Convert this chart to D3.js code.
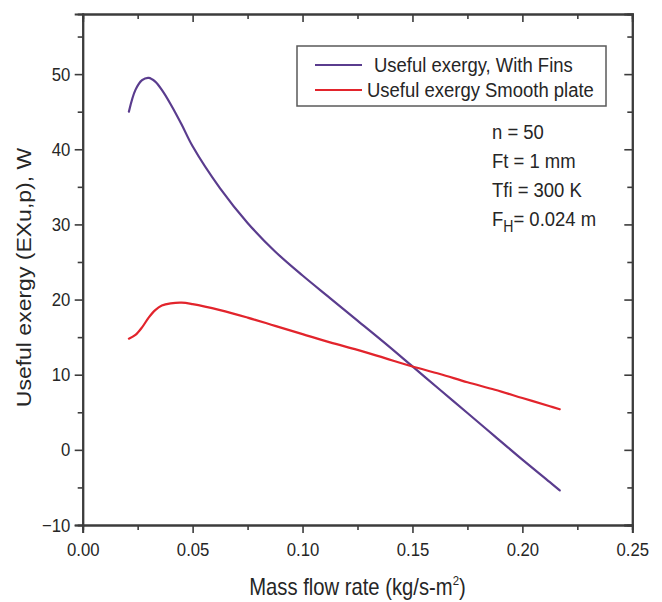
<!DOCTYPE html>
<html>
<head>
<meta charset="utf-8">
<script src="https://cdn.jsdelivr.net/npm/d3@7/dist/d3.min.js"></script>
<style>
  html, body { margin: 0; padding: 0; background: #fff; }
  svg { display: block; }
  text { font-family: "Liberation Sans", Arial, sans-serif; fill: #262626; }
</style>
</head>
<body>
<svg id="chart" width="662" height="602"></svg>
<script>
// Mass flow rate (kg/s-m²) sample points
const massFlow = [0.021, 0.024, 0.027, 0.030, 0.033, 0.036, 0.040, 0.045, 0.050,
  0.0625, 0.075, 0.0875, 0.100, 0.1125, 0.125, 0.1375, 0.150, 0.1625, 0.175,
  0.1875, 0.200, 0.2125, 0.217];

// Useful exergy (W), finned absorber
const exergyFins = [45.0, 47.9, 49.2, 49.5, 49.0, 47.9, 46.0, 43.3, 40.4,
  34.8, 30.2, 26.4, 23.2, 20.2, 17.2, 14.2, 11.1, 8.0, 4.9,
  1.8, -1.3, -4.3, -5.4];

// Useful exergy (W), smooth plate
const exergySmooth = [14.8, 15.3, 16.3, 17.6, 18.6, 19.2, 19.5, 19.6, 19.4,
  18.6, 17.6, 16.5, 15.4, 14.3, 13.3, 12.2, 11.1, 10.1, 9.0,
  8.0, 6.9, 5.8, 5.4];

const seriesNames = ["Useful exergy, With Fins", "Useful exergy Smooth plate"];
const seriesColors = ["#5a3c8e", "#e2242c"];

const xMajorTicks = [0.00, 0.05, 0.10, 0.15, 0.20, 0.25];
const xMinorTicks = [0.025, 0.075, 0.125, 0.175, 0.225];
const yMajorTicks = [-10, 0, 10, 20, 30, 40, 50];
const yMinorTicks = [-5, 5, 15, 25, 35, 45, 55];

const conditions = ["n = 50", "Ft = 1 mm", "Tfi = 300 K"];

const svg = d3.select("#chart");
const plotLeft = 82.7, plotRight = 632.3, plotTop = 14, plotBottom = 525;
const squeeze = 0.88; // glyphs are drawn slightly condensed

const x = d3.scaleLinear().domain([0, 0.25]).range([plotLeft, plotRight]);
const y = d3.scaleLinear().domain([-10, 58]).range([plotBottom, plotTop]);

const axisColor = "#3c3c3c";

function styleAxis(g) {
  g.select(".domain").attr("stroke", axisColor).attr("stroke-width", 2);
  g.selectAll(".tick line").attr("stroke", axisColor).attr("stroke-width", 1.6);
}

// bottom axis: labelled majors + minors, outward
svg.append("g").attr("transform", `translate(0,${plotBottom})`)
  .call(d3.axisBottom(x).tickValues(xMinorTicks).tickSize(5).tickFormat(""))
  .call(styleAxis);
const xAxisG = svg.append("g").attr("transform", `translate(0,${plotBottom})`)
  .call(d3.axisBottom(x).tickValues(xMajorTicks).tickSize(8).tickPadding(10)
    .tickFormat(d3.format(".2f")))
  .call(styleAxis);
xAxisG.selectAll("text").attr("font-size", 19)
  .attr("transform", `scale(${squeeze},1)`).style("fill", "#262626");

// left axis
svg.append("g").attr("transform", `translate(${plotLeft},0)`)
  .call(d3.axisLeft(y).tickValues(yMinorTicks).tickSize(5).tickFormat(""))
  .call(styleAxis);
const yAxisG = svg.append("g").attr("transform", `translate(${plotLeft},0)`)
  .call(d3.axisLeft(y).tickValues(yMajorTicks).tickSize(8).tickPadding(6)
    .tickFormat(d3.format("d")))
  .call(styleAxis);
yAxisG.selectAll("text").attr("font-size", 19)
  .attr("transform", `scale(${squeeze},1)`).style("fill", "#262626");

// top and right axes: inward ticks, no labels
svg.append("g").attr("transform", `translate(0,${plotTop})`)
  .call(d3.axisTop(x).tickValues(xMinorTicks).tickSize(-5).tickFormat(""))
  .call(styleAxis);
svg.append("g").attr("transform", `translate(0,${plotTop})`)
  .call(d3.axisTop(x).tickValues(xMajorTicks).tickSize(-8).tickFormat(""))
  .call(styleAxis);
svg.append("g").attr("transform", `translate(${plotRight},0)`)
  .call(d3.axisRight(y).tickValues(yMinorTicks).tickSize(-5).tickFormat(""))
  .call(styleAxis);
svg.append("g").attr("transform", `translate(${plotRight},0)`)
  .call(d3.axisRight(y).tickValues(yMajorTicks).tickSize(-8).tickFormat(""))
  .call(styleAxis);

// curves
const line = d3.line()
  .x((d, i) => x(massFlow[i]))
  .y(d => y(d))
  .curve(d3.curveCatmullRom.alpha(0.5));

[exergyFins, exergySmooth].forEach((vals, k) => {
  svg.append("path")
    .datum(vals)
    .attr("d", line)
    .attr("fill", "none")
    .attr("stroke", seriesColors[k])
    .attr("stroke-width", 2.2)
    .attr("stroke-linejoin", "round")
    .attr("stroke-linecap", "round");
});

// legend
const legend = svg.append("g");
legend.append("rect")
  .attr("x", 297).attr("y", 46).attr("width", 309).attr("height", 60)
  .attr("fill", "#fff").attr("stroke", "#5a5a5a").attr("stroke-width", 1.5);
seriesNames.forEach((name, k) => {
  const cy = 65 + k * 25;
  legend.append("line")
    .attr("x1", 315).attr("x2", 362).attr("y1", cy).attr("y2", cy)
    .attr("stroke", seriesColors[k]).attr("stroke-width", 2.2);
  legend.append("text")
    .attr("transform", `translate(${k === 0 ? 374 : 367},${cy + 7}) scale(${squeeze},1)`)
    .attr("font-size", 21)
    .text(name);
});

// operating conditions
conditions.forEach((t, k) => {
  svg.append("text")
    .attr("transform", `translate(492,${139 + k * 29}) scale(${squeeze},1)`)
    .attr("font-size", 21)
    .text(t);
});
const fh = svg.append("text")
  .attr("transform", `translate(492,${139 + 3 * 29}) scale(${squeeze},1)`)
  .attr("font-size", 21);
fh.append("tspan").text("F");
fh.append("tspan").attr("font-size", 16).attr("dy", 6).text("H");
fh.append("tspan").attr("dy", -6).text("= 0.024 m");

// axis titles
const xt = svg.append("text")
  .attr("transform", `translate(${(plotLeft + plotRight) / 2},595) scale(${squeeze},1)`)
  .attr("text-anchor", "middle")
  .attr("font-size", 23);
xt.append("tspan").text("Mass flow rate (kg/s-m");
xt.append("tspan").attr("font-size", 13).attr("dy", -10).text("2");
xt.append("tspan").attr("dy", 10).text(")");

svg.append("text")
  .attr("transform", `translate(31,${(plotTop + plotBottom) / 2 + 8}) rotate(-90) scale(1,${squeeze})`)
  .attr("text-anchor", "middle")
  .attr("font-size", 23)
  .text("Useful exergy (EXu,p), W");
</script>
</body>
</html>
